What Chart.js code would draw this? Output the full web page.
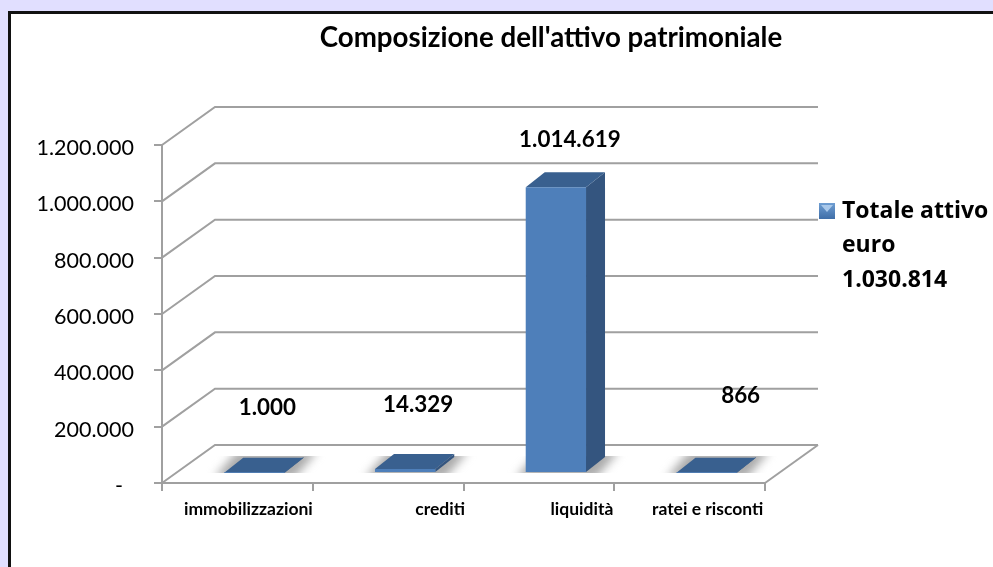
<!DOCTYPE html>
<html lang="it">
<head>
<meta charset="utf-8">
<title>Composizione dell'attivo patrimoniale</title>
<script src="https://cdn.jsdelivr.net/npm/chart.js@4"></script>
<style>
    html, body { margin: 0; padding: 0; background: #e1dfff; overflow: hidden; }
    #panel { position: absolute; left: 8px; top: 11px; width: 985px; height: 556px; background: #fff;
             border-left: 3px solid #111; border-top: 3px solid #111; box-sizing: border-box; }
    #chart { position: absolute; left: 0; top: 0; }
</style>
</head>
<body>
<div id="panel"></div>
<canvas id="chart" width="993" height="567"></canvas>
<script>
const titleText = "Composizione dell'attivo patrimoniale";
const categories = ['immobilizzazioni', 'crediti', 'liquidità', 'ratei e risconti'];
const values = [1000, 14329, 1014619, 866];
const legendLines = ['Totale attivo', 'euro', '1.030.814'];

const GRID = '#a0a0a0';
const wall = { dx: 53, dy: -38 };      // depth of the 3D floor
const barShift = { dx: 17, dy: -10 };  // bars stand inside the floor
const barDepth = { dx: 19, dy: -15 };

// hand placed labels in the original, kept as offsets from the category / bar
const catLabelOffset = [11, 52, 43, 18];
const valueLabelOffset = [[13, -65], [13, -64], [14, -47], [34, -77]];

const fmt = v => v === 0 ? '-  ' : String(v).replace(/\B(?=(\d{3})+$)/g, '.');

function poly(ctx, pts, fill) {
    ctx.beginPath();
    pts.forEach((p, i) => i ? ctx.lineTo(p[0], p[1]) : ctx.moveTo(p[0], p[1]));
    ctx.closePath();
    ctx.fillStyle = fill;
    ctx.fill();
}

const wallsPlugin = {
    id: 'walls',
    beforeDatasetsDraw(chart) {
        const { ctx, chartArea: a, scales: { y } } = chart;
        ctx.save();
        ctx.strokeStyle = GRID;
        ctx.lineWidth = 2;
        y.ticks.forEach(t => {
            const py = y.getPixelForValue(t.value);
            ctx.beginPath();
            ctx.moveTo(a.left, py);
            ctx.lineTo(a.left + wall.dx, py + wall.dy);
            ctx.lineTo(a.right + wall.dx, py + wall.dy);
            ctx.stroke();
        });
        // right edge of the floor
        ctx.beginPath();
        ctx.moveTo(a.right, a.bottom);
        ctx.lineTo(a.right + wall.dx, a.bottom + wall.dy);
        ctx.stroke();
        ctx.restore();

        // everything in the dataset layer is moved back onto the floor
        ctx.save();
        ctx.translate(barShift.dx, barShift.dy);
        const bars = chart.getDatasetMeta(0).data;
        bars.forEach(b => {
            const l = b.x - b.width / 2, r = b.x + b.width / 2;
            // soft shadow on the floor, cut flat at front and back
            ctx.save();
            ctx.beginPath();
            ctx.rect(l - 40, b.base + barDepth.dy - 1, b.width + 100, -barDepth.dy + 2);
            ctx.clip();
            ctx.filter = 'blur(5px)';
            poly(ctx, [[l - 10, b.base + 6], [r + 10, b.base + 6],
                       [r + barDepth.dx + 14, b.base + barDepth.dy - 6],
                       [l + barDepth.dx - 6, b.base + barDepth.dy - 6]], '#aaaaaa');
            ctx.restore();
            // side and top faces
            poly(ctx, [[r, b.y], [r + barDepth.dx, b.y + barDepth.dy],
                       [r + barDepth.dx, b.base + barDepth.dy], [r, b.base]], '#34557f');
            poly(ctx, [[l, b.y], [r, b.y], [r + barDepth.dx, b.y + barDepth.dy],
                       [l + barDepth.dx, b.y + barDepth.dy]], '#39608f');
        });
    },
    afterDatasetsDraw(chart) {
        const { ctx, scales: { x } } = chart;
        ctx.restore();

        ctx.save();
        ctx.fillStyle = '#000';
        ctx.textAlign = 'center';
        ctx.textBaseline = 'middle';

        ctx.font = 'bold 27.7px Lato';
        ctx.fillText(titleText, 551, 38);

        ctx.font = 'bold 17.5px Lato';
        categories.forEach((c, i) => {
            ctx.fillText(c, x.getPixelForValue(i) + catLabelOffset[i], 509);
        });

        ctx.font = 'bold 22.4px Lato';
        chart.getDatasetMeta(0).data.forEach((b, i) => {
            const o = valueLabelOffset[i];
            ctx.fillText(fmt(values[i]), b.x + barShift.dx + o[0], b.y + barShift.dy + o[1]);
        });

        // legend
        const g = ctx.createLinearGradient(0, 203, 0, 219);
        g.addColorStop(0, '#6f9ed2');
        g.addColorStop(1, '#3f6ea8');
        ctx.fillStyle = g;
        ctx.fillRect(819, 203, 16, 16);
        poly(ctx, [[821, 205], [833, 205], [827, 212]], '#a9c8ea');
        ctx.fillStyle = '#000';
        ctx.textAlign = 'left';
        ctx.font = 'bold 23px "Open Sans"';
        legendLines.forEach((t, i) => ctx.fillText(t, 842, 211 + i * 34.5));
        ctx.restore();
    }
};

new Chart(document.getElementById('chart'), {
    type: 'bar',
    data: {
        labels: categories,
        datasets: [{
            label: legendLines.join(' '),
            data: values,
            backgroundColor: '#4e7fba',
            categoryPercentage: 1,
            barPercentage: 0.4,
            clip: false
        }]
    },
    options: {
        responsive: false,
        animation: false,
        layout: { padding: { left: 0, right: 228, top: 145, bottom: 76 } },
        plugins: { legend: { display: false }, title: { display: false }, tooltip: { enabled: false } },
        scales: {
            x: {
                ticks: { display: false },
                border: { color: GRID, width: 2 },
                grid: { drawOnChartArea: false, drawTicks: true, tickLength: 8, color: GRID, lineWidth: 2 }
            },
            y: {
                min: 0,
                max: 1200000,
                afterFit(scale) { scale.width = 162; },
                ticks: { stepSize: 200000, callback: fmt, color: '#000', padding: 20, labelOffset: 3, font: { family: 'Lato', size: 21.5 } },
                border: { color: GRID, width: 2 },
                grid: { drawOnChartArea: false, drawTicks: true, tickLength: 8, color: GRID, lineWidth: 2 }
            }
        }
    },
    plugins: [wallsPlugin]
});
</script>
</body>
</html>
